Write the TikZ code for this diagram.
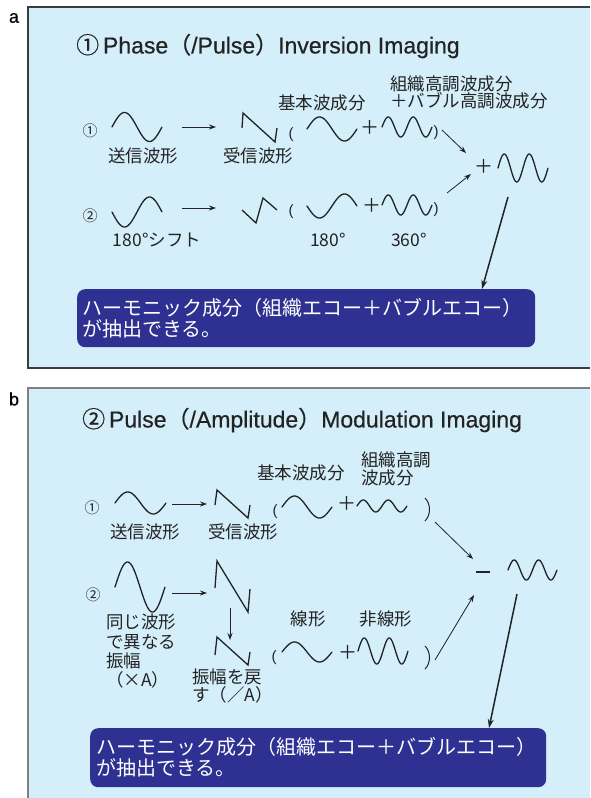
\documentclass[tikz,border=0pt]{standalone}
\usepackage{fontspec}
\setmainfont{Liberation Sans}
\newfontfamily\jp{Noto Sans CJK JP}
\newfontfamily\ttlfont[FakeBold=0.6]{Liberation Sans}
\newfontfamily\jpttl[FakeBold=0.6]{Noto Sans CJK JP}
\usetikzlibrary{arrows.meta}
\definecolor{panelbg}{RGB}{212,238,250}
\definecolor{boxblue}{RGB}{46,49,146}
\definecolor{inkgray}{RGB}{35,35,35}
\definecolor{framegray}{RGB}{60,60,60}
\newcommand\mywave[6]{%
  \draw[wavestroke] plot[domain=0:1,samples=100] ({#1+#3*\x},{#2-#4*sin(#5*\x+#6)});}
\tikzset{
  wavestroke/.style={line width=1.3pt, draw=inkgray, line join=round, line cap=round},
  saw/.style={line width=1.3pt, draw=inkgray, line join=miter},
  lbl/.style={font=\jp\fontsize{17.5}{19}\selectfont, text=inkgray, inner sep=0pt},
  lblw/.style={lbl, anchor=west},
  num/.style={font=\jp\fontsize{15}{15}\selectfont, text=inkgray, inner sep=0pt},
  ttl/.style={font=\ttlfont\fontsize{23}{25}\selectfont, text=inkgray, anchor=west, inner sep=0pt},
  panlbl/.style={font=\ttlfont\fontsize{18}{18}\selectfont, text=black, inner sep=0pt},
  harr/.style={-{Stealth[length=7pt,width=5pt]}, line width=1pt, draw=inkgray},
  darr/.style={-{Stealth[length=7pt,width=5pt]}, line width=0.8pt, draw=inkgray},
  bigarr/.style={-{Stealth[length=9pt,width=6pt]}, line width=1.5pt, draw=inkgray},
  resbox/.style={fill=boxblue, rounded corners=8pt, draw=none, anchor=north west, inner sep=0pt},
  restext/.style={font=\jp\fontsize{20}{21}\selectfont, text=white, anchor=west, inner sep=0pt},
  sym/.style={font=\jp\fontsize{19}{19}\selectfont, text=inkgray, inner sep=0pt},
  prn/.style={font=\fontsize{15}{15}\selectfont, text=inkgray, inner sep=0pt},
  thinprn/.style={line width=1pt, draw=inkgray},
  frame/.style={line width=1.2pt, draw=framegray},
}
\begin{document}
\begin{tikzpicture}[x=1pt,y=-1pt]
\useasboundingbox (0,0) rectangle (590,798);
% ---------------- panels
\fill[white] (0,0) rectangle (590,798);
\fill[panelbg] (28,7) rectangle (590,368);
\draw[frame] (590,7) -- (28,7) -- (28,368) -- (590,368);
\fill[panelbg] (28,388) rectangle (590,798);
\draw[frame, draw=gray] (590,388) -- (28,388) -- (28,798);
\node[panlbl] (la) at (14,18) {a};
\node[panlbl] (lb) at (14,399) {b};

% ================= panel a
\node[ttl] (ta) at (76,46) {{\jpttl ①}\,Phase{\jpttl （}/Pulse{\jpttl ）}Inversion Imaging};

\node[num] (an1) at (90,131) {①};
\node[num] (an2) at (90,216) {②};
\mywave{112}{127}{50}{14.5}{360}{0}
\mywave{112}{212}{50}{15}{360}{180}
\node[lbl] (asend) at (143,156) {送信波形};
\node[lbl] (ashift) at (157,240) {180°シフト};

\coordinate (a1s) at (182,127); \coordinate (a1e) at (216,127);
\coordinate (a2s) at (182,208); \coordinate (a2e) at (216,208);
\draw[harr] (a1s) -- (a1e);
\draw[harr] (a2s) -- (a2e);

\draw[saw] (242,128) -- (243,113) -- (275,142) -- (277,128);
\draw[saw] (242,210) -- (256,223) -- (263,198) -- (277,210);
\node[lbl] (arecv) at (258,156) {受信波形};

\node[prn] (ap1) at (291,135) {(};
\node[prn] (ap2) at (291,212) {(};
\mywave{307}{129}{50}{12}{360}{0}
\mywave{307}{206}{50}{12}{360}{180}
\node[lbl] (afund) at (322,103) {基本波成分};
\node[lbl] (a180) at (328,240) {180°};

\node[sym] (apl1) at (370,127) {＋};
\node[sym] (apl2) at (372,205) {＋};
\mywave{382}{127}{50}{10}{720}{0}
\mywave{382}{205}{50}{10}{720}{0}
\node[prn] (aq1) at (436,133) {)};
\node[prn] (aq2) at (436,210) {)};
\node[lblw] (aharm1) at (390,84) {組織高調波成分};
\node[lblw] (aharm2) at (390,101) {＋バブル高調波成分};
\node[lbl] (a360) at (409,240) {360°};

\coordinate (a3s) at (442,130); \coordinate (a3e) at (466,153);
\coordinate (a4s) at (447,193); \coordinate (a4e) at (471,174);
\draw[darr] (a3s) -- (a3e);
\draw[darr] (a4s) -- (a4e);
\node[sym] (aplr) at (484,166) {＋};
\mywave{498}{168}{50}{14}{720}{0}

\node[resbox, minimum width=458pt, minimum height=58pt] (boxa) at (77,289) {};
\node[restext] (ta1) at (82,308) {ハーモニック成分（組織エコー＋バブルエコー）};
\node[restext] (ta2) at (82,329) {が抽出できる。};
\coordinate (a5s) at (508,197); \coordinate (a5e) at (482,289);
\draw[bigarr] (a5s) -- (a5e);

% ================= panel b
\node[ttl] (tb) at (82,420) {{\jpttl ②}\,Pulse{\jpttl （}/Amplitude{\jpttl ）}Modulation Imaging};

\node[num] (bn1) at (92,508) {①};
\node[num] (bn2) at (93,595) {②};
\mywave{115}{503}{51}{11}{360}{0}
\mywave{115}{587}{50}{25}{360}{0}
\node[lbl] (bsend) at (145,532) {送信波形};
\node[lblw] (bsame1) at (106,622) {同じ波形};
\node[lblw] (bsame2) at (106,642) {で異なる};
\node[lblw] (bsame3) at (106,661) {振幅};
\node[lblw] (bsame4) at (106,680) {（×A）};

\coordinate (b1s) at (172,504); \coordinate (b1e) at (207,504);
\coordinate (b2s) at (172,593); \coordinate (b2e) at (207,593);
\draw[harr] (b1s) -- (b1e);
\draw[harr] (b2s) -- (b2e);

\draw[saw] (215,505) -- (217,490) -- (248,518) -- (250,505);
\draw[saw] (215,588) -- (217,561) -- (248,612) -- (250,589);
\draw[saw] (215,655) -- (217,637) -- (248,665) -- (250,652);
\coordinate (b3s) at (230,608); \coordinate (b3e) at (230,640);
\draw[harr] (b3s) -- (b3e);
\node[lbl] (brecv) at (243,532) {受信波形};
\node[lblw] (bret1) at (192,677) {振幅を戻};
\node[lblw] (bret2) at (192,695) {す（／A）};

\node[prn] (bp1) at (275,512) {(};
\node[prn] (bp2) at (274,658) {(};
\mywave{282}{507}{50}{11}{360}{0}
\mywave{282}{652}{50}{10}{360}{0}
\node[lbl] (bfund) at (301,473) {基本波成分};
\node[lbl] (blin) at (308,619) {線形};

\node[sym] (bpl1) at (347,503) {＋};
\node[sym] (bpl2) at (348,652) {＋};
\mywave{357}{506}{50}{6}{720}{0}
\mywave{358}{651}{50}{13}{720}{0}
% tall closing parentheses
\draw[thinprn] (425,498) .. controls (431,504) and (431,515) .. (425,521);
\draw[thinprn] (425,646) .. controls (431,652) and (431,663) .. (425,669);
\node[lblw] (bharm1) at (361,460) {組織高調};
\node[lblw] (bharm2) at (361,478) {波成分};
\node[lbl] (bnon) at (386,619) {非線形};

\coordinate (b4s) at (435,522); \coordinate (b4e) at (473,559);
\coordinate (b5s) at (435,660); \coordinate (b5e) at (474,595);
\draw[darr] (b4s) -- (b4e);
\draw[darr] (b5s) -- (b5e);
\coordinate (bm1) at (476,572); \coordinate (bm2) at (490,572);
\draw[line width=1.3pt, draw=inkgray] (bm1) -- (bm2);
\mywave{508}{570}{49}{10}{720}{0}

\node[resbox, minimum width=456pt, minimum height=59pt] (boxb) at (90,728) {};
\node[restext] (tb1) at (96,747) {ハーモニック成分（組織エコー＋バブルエコー）};
\node[restext] (tb2) at (96,768) {が抽出できる。};
\coordinate (b6s) at (517,594); \coordinate (b6e) at (489,728);
\draw[bigarr] (b6s) -- (b6e);
\end{tikzpicture}
\end{document}
